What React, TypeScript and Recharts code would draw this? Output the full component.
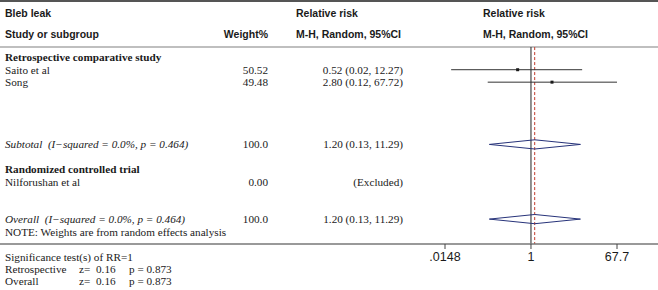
import { ComposedChart, ReferenceLine, Scatter, XAxis, YAxis } from "recharts"

// ── Data ──────────────────────────────────────────────────────────────
const studyNames = ["Saito et al", "Song"]
const studyWeights = [50.52, 49.48]
const studyRR = [0.52, 2.8]
const studyLo = [0.02, 0.12]
const studyHi = [12.27, 67.72]

const pooledRR = 1.2
const pooledLo = 0.13
const pooledHi = 11.29
const pooledWeight = 100.0
const heterogeneity = "(I\u2212squared = 0.0%, p = 0.464)"

const rctNames = ["Nilforushan et al"]
const rctWeights = [0.0]

const axisTicks = [0.0148, 1, 67.7]

const sigLabels = ["Retrospective", "Overall"]
const sigZ = [0.16, 0.16]
const sigP = [0.873, 0.873]

// ── Layout ────────────────────────────────────────────────────────────
const W = 658
const H = 290
const AXIS_H = 46
const TICK_LO_PX = 445
const TICK_HI_PX = 617
const lnPerPx = Math.log(axisTicks[2] / axisTicks[0]) / (TICK_HI_PX - TICK_LO_PX)
const xDomain = [axisTicks[0] * Math.exp(-TICK_LO_PX * lnPerPx), axisTicks[2] * Math.exp((W - TICK_HI_PX) * lnPerPx)]
const yDomain = [-4.6, 15]

const COL_NAME = 5
const COL_WEIGHT = 268
const COL_EST = 403
const COL_HEAD_EST = 296
const COL_HEAD_PLOT = 483

const SANS = "'Liberation Sans', Arial, sans-serif"
const SERIF = "'Liberation Serif', 'Times New Roman', serif"
const INK = "#1a1a1a"
const NAVY = "#27337a"
const BODY_SIZE = 11.2

// rows (in row units, top to bottom)
const ROW_GROUP1 = 0
const ROW_SUB = 7
const ROW_GROUP2 = 9
const ROW_OVERALL = 13
const ROW_NOTE = 14
const ROW_HEADLINE = -0.82
const DIAMOND_H = 0.37

const fmt = (v: number) => v.toFixed(2)
const est = (r: number, lo: number, hi: number) => `${fmt(r)} (${fmt(lo)}, ${fmt(hi)})`

const tableRows = [
    { x: 1, y: ROW_GROUP1, name: "Retrospective comparative study", kind: "group" },
    ...studyNames.map((n, i) => ({
        x: 1, y: ROW_GROUP1 + 1 + i, name: n, kind: "study",
        weight: studyWeights[i].toFixed(2), est: est(studyRR[i], studyLo[i], studyHi[i]),
    })),
    { x: 1, y: ROW_SUB, name: "Subtotal  " + heterogeneity, kind: "pooled", weight: pooledWeight.toFixed(1), est: est(pooledRR, pooledLo, pooledHi) },
    { x: 1, y: ROW_GROUP2, name: "Randomized controlled trial", kind: "group" },
    ...rctNames.map((n, i) => ({
        x: 1, y: ROW_GROUP2 + 1 + i, name: n, kind: "study", weight: rctWeights[i].toFixed(2), est: "(Excluded)",
    })),
    { x: 1, y: ROW_OVERALL, name: "Overall  " + heterogeneity, kind: "pooled", weight: pooledWeight.toFixed(1), est: est(pooledRR, pooledLo, pooledHi) },
    { x: 1, y: ROW_NOTE, name: "NOTE: Weights are from random effects analysis", kind: "study" },
]

const studyPoints = studyRR.map((r, i) => ({ x: r, y: ROW_GROUP1 + 1 + i }))

const diamond = (row: number) => [
    { x: pooledLo, y: row },
    { x: pooledRR, y: row - DIAMOND_H },
    { x: pooledHi, y: row },
    { x: pooledRR, y: row + DIAMOND_H },
    { x: pooledLo, y: row },
]

const TableRow = (props: any) => {
    const { cy, payload } = props
    const nameStyle: any = { whiteSpace: "pre" }
    return (
        <g fontFamily={SERIF} fontSize={BODY_SIZE} fill={INK}>
            <text x={COL_NAME} y={cy} dominantBaseline="central" style={nameStyle}
                fontWeight={payload.kind === "group" ? "bold" : "normal"}
                fontStyle={payload.kind === "pooled" ? "italic" : "normal"}>
                {payload.name}
            </text>
            {payload.weight && (
                <text x={COL_WEIGHT} y={cy} dominantBaseline="central" textAnchor="end">{payload.weight}</text>
            )}
            {payload.est && (
                <text x={COL_EST} y={cy} dominantBaseline="central" textAnchor="end">{payload.est}</text>
            )}
        </g>
    )
}

const Square = (props: any) => (
    <rect x={props.cx - 1.5} y={props.cy - 1.5} width={3} height={3} fill={INK} />
)

const Nothing = () => <g />

const tickFmt = (v: number) => (v < 1 ? String(v).replace(/^0/, "") : String(v))

export default function App() {
    return (
        <div style={{ position: "absolute", left: 0, top: 0, width: W, height: H, background: "#fff" }}>
            <ComposedChart width={W} height={H} margin={{ top: 0, right: 0, bottom: 0, left: 0 }}>
                <XAxis
                    type="number"
                    dataKey="x"
                    scale="log"
                    domain={xDomain}
                    allowDataOverflow
                    ticks={axisTicks}
                    tickFormatter={tickFmt}
                    height={AXIS_H}
                    tickSize={5}
                    tickMargin={3}
                    interval={0}
                    axisLine={{ stroke: "#777", strokeWidth: 1.3 }}
                    tickLine={{ stroke: "#444" }}
                    tick={{ fontSize: 12.5, fontFamily: SANS, fill: INK }}
                />
                <YAxis type="number" dataKey="y" domain={yDomain} reversed hide allowDataOverflow />

                {/* frame lines */}
                <rect x={0} y={0} width={W} height={2} fill="#555" />
                <ReferenceLine y={ROW_HEADLINE} stroke="#aaa" strokeWidth={1.5} />

                {/* header */}
                <g fontFamily={SANS} fontSize={10.5} fontWeight="bold" fill={INK}>
                    <text x={COL_NAME} y={13} dominantBaseline="central">Bleb leak</text>
                    <text x={COL_NAME} y={34} dominantBaseline="central">Study or subgroup</text>
                    <text x={COL_WEIGHT} y={34} dominantBaseline="central" textAnchor="end">Weight%</text>
                    <text x={COL_HEAD_EST} y={13} dominantBaseline="central">Relative risk</text>
                    <text x={COL_HEAD_EST} y={34} dominantBaseline="central">M-H, Random, 95%CI</text>
                    <text x={COL_HEAD_PLOT} y={13} dominantBaseline="central">Relative risk</text>
                    <text x={COL_HEAD_PLOT} y={34} dominantBaseline="central">M-H, Random, 95%CI</text>
                </g>

                {/* null line and overall estimate */}
                <ReferenceLine segment={[{ x: 1, y: ROW_HEADLINE }, { x: 1, y: yDomain[1] }]} stroke="#222" strokeWidth={1} />
                <ReferenceLine segment={[{ x: pooledRR, y: ROW_HEADLINE }, { x: pooledRR, y: yDomain[1] }]}
                    stroke="#c0392b" strokeWidth={1} strokeDasharray="3 2" />

                {/* study CIs */}
                {studyRR.map((_, i) => (
                    <ReferenceLine key={i}
                        segment={[{ x: studyLo[i], y: ROW_GROUP1 + 1 + i }, { x: studyHi[i], y: ROW_GROUP1 + 1 + i }]}
                        stroke="#333" strokeWidth={1} />
                ))}

                <Scatter data={tableRows} shape={TableRow} isAnimationActive={false} />
                <Scatter data={studyPoints} shape={Square} isAnimationActive={false} />
                <Scatter data={diamond(ROW_SUB)} shape={Nothing} line={{ stroke: NAVY, strokeWidth: 1 }} lineType="joint" isAnimationActive={false} />
                <Scatter data={diamond(ROW_OVERALL)} shape={Nothing} line={{ stroke: NAVY, strokeWidth: 1 }} lineType="joint" isAnimationActive={false} />

                {/* significance tests */}
                <g fontFamily={SERIF} fontSize={BODY_SIZE} fill={INK} style={{ whiteSpace: "pre" }}>
                    <text x={COL_NAME} y={257} dominantBaseline="central">Significance test(s) of RR=1</text>
                    {sigLabels.map((l, i) => (
                        <g key={l}>
                            <text x={COL_NAME} y={269 + 12 * i} dominantBaseline="central">{l}</text>
                            <text x={79} y={269 + 12 * i} dominantBaseline="central">z=</text>
                            <text x={96} y={269 + 12 * i} dominantBaseline="central">{sigZ[i].toFixed(2)}</text>
                            <text x={129} y={269 + 12 * i} dominantBaseline="central">{`p = ${sigP[i].toFixed(3)}`}</text>
                        </g>
                    ))}
                </g>
            </ComposedChart>
        </div>
    )
}
